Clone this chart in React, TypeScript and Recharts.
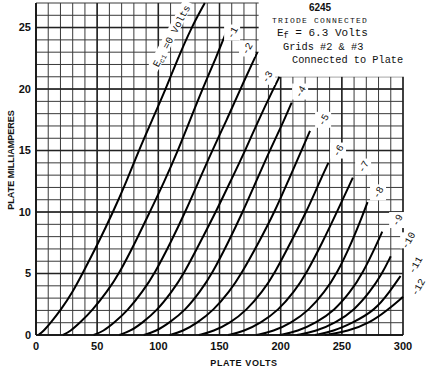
import { LineChart, Line, XAxis, YAxis, CartesianGrid, ReferenceArea, ReferenceDot } from 'recharts'

const xTicks = [0, 50, 100, 150, 200, 250, 300]
const yTicks = [0, 5, 10, 15, 20, 25]
const gridX = Array.from({ length: 31 }, (_, k) => k * 10)
const gridY = Array.from({ length: 28 }, (_, k) => k)

// [plate volts, plate mA]
const ec0 = [[2, 0], [6, 0.3], [12, 1], [20, 2], [30, 3.5], [38, 5], [51, 7.5], [63, 10], [74, 12.5], [84, 15], [95, 17.5], [106, 20], [116, 22.5], [127, 25], [138, 27]]
const ec1 = [[22, 0], [28, 0.3], [36, 1], [46, 2], [58, 3.5], [68, 5], [81, 7.5], [93, 10], [105, 12.5], [116, 15], [126, 17.5], [136, 20], [147, 22.5], [157, 25]]
const ec2 = [[47, 0], [55, 0.3], [64, 1], [75, 2], [87, 3.5], [97, 5], [110, 7.5], [122, 10], [133, 12.5], [144, 15], [156, 17.5], [167, 20], [181, 23]]
const ec3 = [[68, 0], [77, 0.3], [87, 1], [99, 2], [111, 3.5], [121, 5], [134, 7.5], [147, 10], [159, 12.5], [171, 15], [182, 17.5], [194, 20], [199, 21]]
const ec4 = [[88, 0], [98, 0.3], [109, 1], [122, 2], [134, 3.5], [144, 5], [157, 7.5], [169, 10], [180, 12.5], [191, 15], [203, 17.5], [209, 18.9]]
const ec5 = [[109, 0], [120, 0.3], [132, 1], [145, 2], [158, 3.5], [168, 5], [182, 7.5], [195, 10], [206, 12.5], [217, 15], [224, 16.6]]
const ec6 = [[133, 0], [145, 0.3], [159, 1], [172, 2], [185, 3.5], [195, 5], [208, 7.5], [221, 10], [232, 12.5], [239, 14]]
const ec7 = [[157, 0], [170, 0.3], [184, 1], [198, 2], [211, 3.5], [221, 5], [234, 7.5], [246, 10], [259, 12.8]]
const ec8 = [[180, 0], [194, 0.3], [209, 1], [223, 2], [236, 3.5], [246, 5], [258, 7.5], [268, 10], [271, 10.8]]
const ec9 = [[199, 0], [214, 0.3], [229, 1], [244, 2], [257, 3.5], [267, 5], [279, 7.5], [283, 8.4]]
const ec10 = [[213, 0], [229, 0.3], [245, 1], [260, 2], [273, 3.5], [283, 5], [290, 6.4]]
const ec11 = [[228, 0], [243, 0.3], [259, 1], [277, 2], [289, 3.5], [298, 4.8]]
const ec12 = [[236, 0], [255, 0.3], [273, 1], [287, 2], [300, 3.1]]

const curves = [ec0, ec1, ec2, ec3, ec4, ec5, ec6, ec7, ec8, ec9, ec10, ec11, ec12]

const biasNames = ['0', '-1', '-2', '-3', '-4', '-5', '-6', '-7', '-8', '-9', '-10', '-11', '-12']
// where each bias label sits, in volts / mA
const biasSpots = [[111, 24.3], [160.3, 24.6], [172.5, 23.3], [188.9, 21], [215.9, 19.8], [234.7, 17.5], [246.9, 15], [267.4, 13.7], [279.6, 11.6], [295.2, 9.35], [304.2, 7.7], [309.9, 5.7], [312.3, 3.9]]

const mono = '"Liberation Mono", "DejaVu Sans Mono", monospace'
const sans = '"Liberation Sans", Arial, sans-serif'

function BiasTag({ cx, cy, name }: { cx: number; cy: number; name: string }) {
  if (name === '0') {
    return (
      <g transform={`translate(${cx},${cy}) rotate(-62)`}>
        <rect x={-38} y={-7} width={76} height={11} fill="#fff" />
        <text x={0} y={3} textAnchor="middle" fontFamily={mono} fontSize={10} fill="#111">
          E<tspan fontSize={7} dy={2}>c1</tspan>
          <tspan dy={-2}> =0 Volts</tspan>
        </text>
      </g>
    )
  }
  return (
    <g transform={`translate(${cx},${cy})`}>
      <rect x={-8} y={-8} width={16} height={16} fill="#fff" />
      <text transform="rotate(-60)" x={0} y={3.5} textAnchor="middle" fontFamily={mono} fontSize={10} fill="#111">
        {name}
      </text>
    </g>
  )
}

export default function App() {
  return (
    <div style={{ position: 'absolute', left: 0, top: 0, width: 430, height: 370, background: '#fff' }}>
      <LineChart width={430} height={370} margin={{ top: 3, right: 27, bottom: 15, left: 10 }}>
        <CartesianGrid stroke="#3a3a3a" strokeWidth={1} />
        <CartesianGrid verticalValues={xTicks} horizontalValues={yTicks} stroke="#222" strokeWidth={1.5} />
        <XAxis
          type="number"
          dataKey="v"
          domain={[0, 300]}
          ticks={gridX}
          interval={0}
          tickFormatter={(v: number) => (xTicks.includes(v) ? String(v) : '')}
          height={20}
          tickLine={false}
          tickSize={0}
          tickMargin={7}
          axisLine={{ stroke: '#111', strokeWidth: 1.5 }}
          tick={{ fill: '#111', fontSize: 11, fontWeight: 700, fontFamily: sans }}
        />
        <YAxis
          type="number"
          domain={[0, 27]}
          ticks={gridY}
          interval={0}
          tickFormatter={(v: number) => (yTicks.includes(v) ? String(v) : '')}
          width={26}
          tickLine={false}
          tickSize={0}
          tickMargin={5}
          axisLine={{ stroke: '#111', strokeWidth: 1.5 }}
          tick={{ fill: '#111', fontSize: 11, fontWeight: 700, fontFamily: sans }}
        />
        <ReferenceArea x1={182} x2={304} y1={21} y2={27.6} fill="#fff" fillOpacity={1} stroke="none" ifOverflow="visible" />
        {biasNames.map((name, k) => (
          <ReferenceDot
            key={name}
            x={biasSpots[k][0]}
            y={biasSpots[k][1]}
            r={0}
            ifOverflow="visible"
            shape={(p: any) => <BiasTag cx={p.cx} cy={p.cy} name={name} />}
          />
        ))}
        {curves.map((pts, k) => (
          <Line
            key={biasNames[k]}
            data={pts.map(([v, i]) => ({ v, i }))}
            dataKey="i"
            type="basis"
            stroke="#000"
            strokeWidth={2}
            dot={false}
            isAnimationActive={false}
          />
        ))}
      </LineChart>
      <svg width={430} height={370} style={{ position: 'absolute', left: 0, top: 0, pointerEvents: 'none' }}>
        <text x={320} y={11} textAnchor="middle" fontFamily={sans} fontWeight={700} fontSize={10} fill="#111">6245</text>
        <text x={320} y={23} textAnchor="middle" fontFamily={mono} fontSize={8} letterSpacing={1.2} fill="#111">TRIODE CONNECTED</text>
        <text x={277} y={36} fontFamily={mono} fontSize={11} fill="#111">
          E<tspan fontSize={8.5} dy={2}>f</tspan>
          <tspan dy={-2}> = 6.3 Volts</tspan>
        </text>
        <text x={283} y={50} fontFamily={mono} fontSize={10.3} fill="#111">Grids #2 &amp; #3</text>
        <text x={292} y={62.5} fontFamily={mono} fontSize={10.3} fill="#111">Connected to Plate</text>
        <text x={244} y={366} textAnchor="middle" fontFamily={sans} fontWeight={700} fontSize={9} letterSpacing={0.6} fill="#111">PLATE VOLTS</text>
        <text transform="translate(14,160) rotate(-90)" textAnchor="middle" fontFamily={sans} fontWeight={700} fontSize={9} fill="#111">PLATE MILLIAMPERES</text>
      </svg>
    </div>
  )
}
